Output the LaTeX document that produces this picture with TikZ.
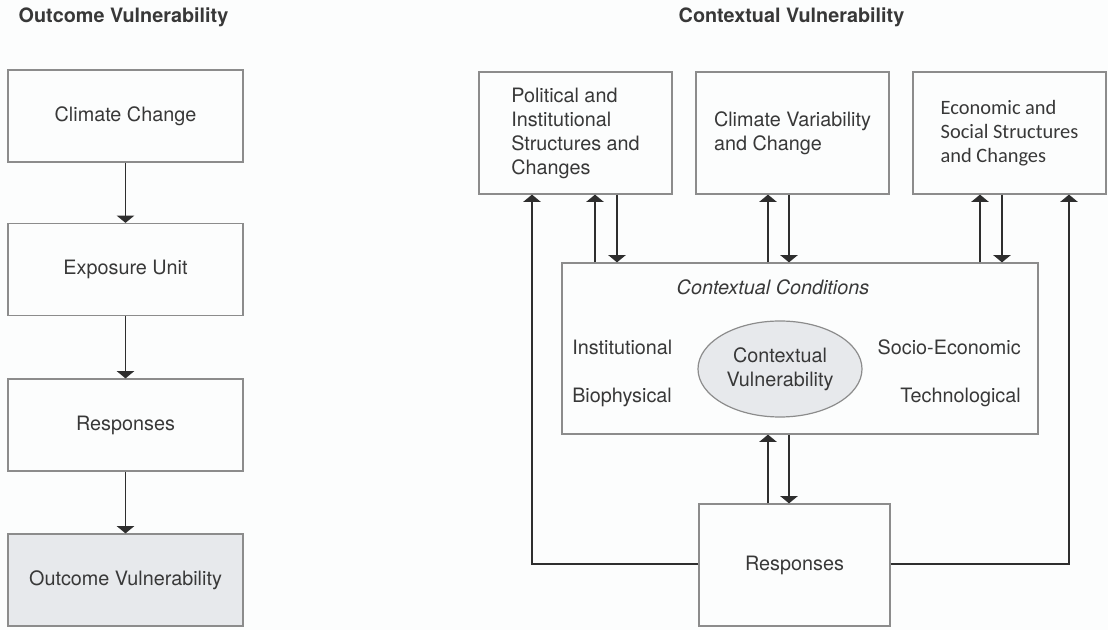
\documentclass[tikz,border=0pt]{standalone}
\usepackage{fontspec}
\setmainfont{TeX Gyre Heros}
\newfontfamily\calfont{Carlito}
\usetikzlibrary{arrows.meta,shapes.geometric}
\definecolor{bg}{HTML}{FCFDFD}
\definecolor{boxgray}{HTML}{8C8C8C}
\definecolor{txt}{HTML}{383838}
\definecolor{arrcol}{HTML}{2E2E2E}
\definecolor{shade}{HTML}{E7E9EC}
\newcommand{\bodyfont}{\fontsize{14.85}{18}\selectfont}
\newcommand{\titlefont}{\fontsize{14.85}{18}\selectfont\bfseries}
\tikzset{
  boxnode/.style={draw=boxgray, line width=0.9pt, inner sep=0pt, fill=bg,
    font=\bodyfont, text=txt, align=left},
  leftbox/.style={boxnode, minimum width=176.25pt, minimum height=69pt},
  topbox/.style={boxnode, minimum width=144.75pt, minimum height=91.5pt},
  lbl/.style={font=\bodyfont, text=txt, inner sep=0pt},
  ttl/.style={font=\titlefont, text=txt, inner sep=0pt},
  arr/.style={draw=arrcol, line width=1.25pt, -{Triangle[width=13pt,length=5.5pt]}},
  ln/.style={draw=arrcol, line width=1.25pt}
}
\begin{document}
\begin{tikzpicture}[x=0.75pt,y=-0.75pt]
\fill[bg] (0,0) rectangle (1108,630);
\useasboundingbox (0,0) rectangle (1108,630);

% titles
\node[ttl] (t1) at (123.5,17) {Outcome Vulnerability};
\node[ttl] (t2) at (791.5,17) {Contextual Vulnerability};

% left chain
\node[leftbox] (cc) at (125.5,116) {Climate Change};
\node[leftbox] (eu) at (125.5,269.5) {Exposure Unit};
\node[leftbox] (lr) at (125.5,425) {Responses};
\node[leftbox, fill=shade] (ov) at (125.5,580) {Outcome Vulnerability};
\draw[arr] (cc.south) -- (eu.north);
\draw[arr] (eu.south) -- (lr.north);
\draw[arr] (lr.south) -- (ov.north);

% right top boxes
\node[topbox] (pol) at (575.5,133) {Political and\\Institutional\\Structures and\\Changes};
\node[topbox] (cvc) at (792.5,133) {Climate Variability\\and Change};
\node[topbox, font={\fontsize{15.3}{18}\calfont}] (eco) at (1009.5,133) {Economic and\\Social Structures\\and Changes};

% contextual conditions box
\node[boxnode, minimum width=357pt, minimum height=128.25pt] (ctx) at (800,348.5) {};
\node[lbl, font=\bodyfont\itshape] (cct) at (773,287) {Contextual Conditions};
\node[lbl, anchor=west] (inst) at (572,347) {Institutional};
\node[lbl, anchor=west] (bio) at (572,397) {Biophysical};
\node[lbl, anchor=east] (soc) at (1021,347) {Socio-Economic};
\node[lbl, anchor=east] (tech) at (1021,397) {Technological};
\node[ellipse, draw=boxgray, line width=0.9pt, fill=shade, inner sep=0pt,
  minimum width=123pt, minimum height=72pt, font=\bodyfont, text=txt, align=center]
  (cv) at (780,369) {Contextual\\Vulnerability};

% responses box
\node[boxnode, minimum width=143.25pt, minimum height=91.5pt] (resp) at (794.5,565) {Responses};

% x positions of vertical connectors
\coordinate (xp1) at (595,0);
\coordinate (xp2) at (617,0);
\coordinate (xc1) at (768,0);
\coordinate (xc2) at (789,0);
\coordinate (xe1) at (980,0);
\coordinate (xe2) at (1002,0);
\coordinate (Lc) at (532,564);
\coordinate (Rc) at (1069,564);

\draw[arr] (ctx.north -| xp1) -- (pol.south -| xp1);
\draw[arr] (pol.south -| xp2) -- (ctx.north -| xp2);
\draw[arr] (ctx.north -| xc1) -- (cvc.south -| xc1);
\draw[arr] (cvc.south -| xc2) -- (ctx.north -| xc2);
\draw[arr] (ctx.north -| xe1) -- (eco.south -| xe1);
\draw[arr] (eco.south -| xe2) -- (ctx.north -| xe2);

\draw[arr] (resp.north -| xc1) -- (ctx.south -| xc1);
\draw[arr] (ctx.south -| xc2) -- (resp.north -| xc2);

\draw[arr] (resp.west |- Lc) -- (Lc) -- (pol.south -| Lc);
\draw[arr] (resp.east |- Rc) -- (Rc) -- (eco.south -| Rc);
\end{tikzpicture}
\end{document}
